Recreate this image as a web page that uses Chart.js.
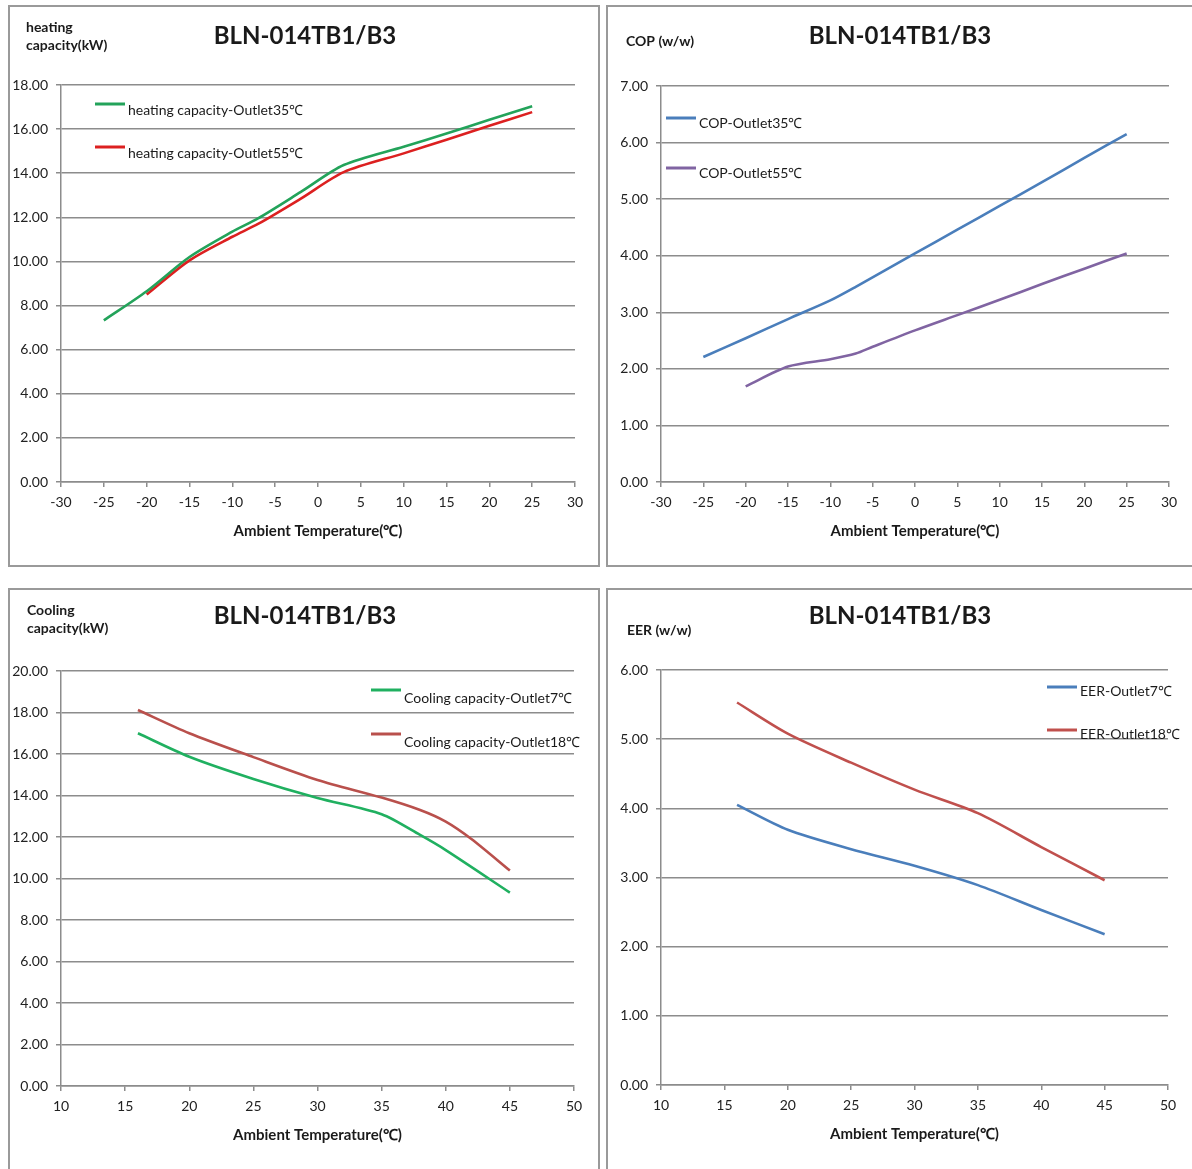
<!DOCTYPE html>
<html lang="en">
<head>
    <meta charset="UTF-8">
    <title>BLN-014TB1/B3 performance curves</title>
    <script src="https://cdn.jsdelivr.net/npm/chart.js"></script>
    <style>
        body { margin: 0; background: #fff; overflow: hidden; width: 1192px; height: 1169px; position: relative; }
        .frame { position: absolute; box-sizing: border-box; border: 2px solid #9a9a9a; }
        .holder { position: absolute; }
    </style>
</head>
<body>
    <!-- panel frames -->
    <div class="frame" style="left:8px;top:5px;width:592px;height:562px"></div>
    <div class="frame" style="left:606px;top:5px;width:620px;height:562px"></div>
    <div class="frame" style="left:8px;top:588px;width:592px;height:620px"></div>
    <div class="frame" style="left:606px;top:588px;width:620px;height:620px"></div>

    <div class="holder" style="left:8px;top:5px"><canvas id="heatChart" width="592" height="562"></canvas></div>
    <div class="holder" style="left:607px;top:5px"><canvas id="copChart" width="592" height="562"></canvas></div>
    <div class="holder" style="left:8px;top:588px"><canvas id="coolChart" width="592" height="581"></canvas></div>
    <div class="holder" style="left:607px;top:588px"><canvas id="eerChart" width="592" height="581"></canvas></div>

    <script>
        // ---- data ----
        const modelName = 'BLN-014TB1/B3';
        const xTitle = 'Ambient Temperature(℃)';

        // heating capacity (kW)
        const heatTemp35 = [-25, -20, -15, -10, -7, -2, 3, 10, 15, 20, 25];
        const heatCap35 = [7.33, 8.65, 10.2, 11.35, 11.95, 13.15, 14.37, 15.2, 15.8, 16.42, 17.04];
        const heatTemp55 = [-20, -15, -10, -7, -2, 3, 10, 15, 20, 25];
        const heatCap55 = [8.5, 10.05, 11.12, 11.7, 12.85, 14.05, 14.9, 15.52, 16.15, 16.77];
        const heatXTicks = [-30, -25, -20, -15, -10, -5, 0, 5, 10, 15, 20, 25, 30];
        const heatYTicks = [0, 2, 4, 6, 8, 10, 12, 14, 16, 18];

        // COP (w/w)
        const copTemp35 = [-25, -20, -15, -10, -7, 0, 5, 10, 15, 20, 25];
        const cop35 = [2.21, 2.54, 2.88, 3.21, 3.45, 4.04, 4.46, 4.88, 5.3, 5.73, 6.15];
        const copTemp55 = [-20, -15, -10, -7, -5, 0, 5, 10, 15, 20, 25];
        const cop55 = [1.69, 2.04, 2.17, 2.27, 2.39, 2.68, 2.95, 3.22, 3.5, 3.77, 4.04];
        const copXTicks = [-30, -25, -20, -15, -10, -5, 0, 5, 10, 15, 20, 25, 30];
        const copYTicks = [0, 1, 2, 3, 4, 5, 6, 7];

        // cooling capacity (kW)
        const coolTemp7 = [16, 20, 25, 30, 35, 38, 40, 45];
        const cool7 = [17.0, 15.87, 14.8, 13.88, 13.1, 12.1, 11.37, 9.32];
        const coolTemp18 = [16, 20, 25, 30, 35, 38, 40, 42, 45];
        const cool18 = [18.12, 17.0, 15.85, 14.75, 13.9, 13.3, 12.74, 11.9, 10.38];
        const coolXTicks = [10, 15, 20, 25, 30, 35, 40, 45, 50];
        const coolYTicks = [0, 2, 4, 6, 8, 10, 12, 14, 16, 18, 20];

        // EER (w/w)
        const eerTemp = [16, 20, 25, 30, 35, 40, 45];
        const eer7 = [4.05, 3.69, 3.41, 3.17, 2.89, 2.53, 2.18];
        const eer18 = [5.53, 5.08, 4.66, 4.27, 3.93, 3.44, 2.96];
        const eerXTicks = [10, 15, 20, 25, 30, 35, 40, 45, 50];
        const eerYTicks = [0, 1, 2, 3, 4, 5, 6];

        const FONT = 'Lato, "Open Sans", sans-serif';
        const GRID = '#8c8c8c';

        function pts(xs, ys) {
            return xs.map((x, i) => ({ x: x, y: ys[i] }));
        }

        // title, unit label on the top left and the in-plot legend
        const extras = {
            id: 'extras',
            afterDraw(chart, args, o) {
                const ctx = chart.ctx;
                ctx.save();
                ctx.fillStyle = '#1a1a1a';
                ctx.textBaseline = 'middle';
                ctx.textAlign = 'center';
                ctx.font = 'bold 24px ' + FONT;
                ctx.fillText(modelName, o.titleX, o.titleY);

                ctx.textAlign = 'left';
                ctx.font = 'bold 14px ' + FONT;
                o.unit.forEach((t, i) => ctx.fillText(t, o.unitX, o.unitY + i * 18));

                ctx.font = '14px ' + FONT;
                chart.data.datasets.forEach((ds, i) => {
                    const y = o.legY + i * o.legGap;
                    ctx.strokeStyle = ds.borderColor;
                    ctx.lineWidth = 3;
                    ctx.beginPath();
                    ctx.moveTo(o.legX, y);
                    ctx.lineTo(o.legX + 30, y);
                    ctx.stroke();
                    ctx.fillText(ds.label, o.legX + 33, y + o.textDy);
                });
                ctx.restore();
            }
        };

        function makeChart(id, cfg) {
            const c = document.getElementById(id);
            const area = cfg.area; // chart area inside the canvas
            const xH = 60;
            return new Chart(c, {
                type: 'line',
                data: {
                    datasets: cfg.series.map(s => ({
                        label: s.label,
                        data: pts(s.x, s.y),
                        borderColor: s.color,
                        borderWidth: 2.6,
                        pointRadius: 0,
                        tension: 0.28,
                        fill: false
                    }))
                },
                options: {
                    responsive: false,
                    animation: false,
                    layout: {
                        padding: {
                            left: 0,
                            top: area.top,
                            right: c.width - area.right,
                            bottom: c.height - area.bottom - xH
                        }
                    },
                    plugins: {
                        legend: { display: false },
                        tooltip: { enabled: false },
                        extras: cfg.extras
                    },
                    scales: {
                        x: {
                            type: 'linear',
                            min: cfg.xTicks[0],
                            max: cfg.xTicks[cfg.xTicks.length - 1],
                            afterBuildTicks: s => { s.ticks = cfg.xTicks.map(v => ({ value: v })); },
                            afterFit: s => { s.height = xH; },
                            grid: { drawOnChartArea: false, drawTicks: true, tickLength: 5, color: GRID, lineWidth: 1.5 },
                            border: { color: GRID, width: 1.5 },
                            ticks: { color: '#222', font: { family: FONT, size: 14 }, padding: 7, maxRotation: 0 },
                            title: {
                                display: true,
                                text: xTitle,
                                color: '#1a1a1a',
                                font: { family: FONT, size: 15, weight: 'bold' },
                                padding: { top: 0, bottom: 2 }
                            }
                        },
                        y: {
                            min: cfg.yTicks[0],
                            max: cfg.yTicks[cfg.yTicks.length - 1],
                            afterBuildTicks: s => { s.ticks = cfg.yTicks.map(v => ({ value: v })); },
                            afterFit: s => { s.width = area.left; },
                            grid: { color: GRID, lineWidth: 1.5, tickLength: 5 },
                            border: { color: GRID, width: 1.5 },
                            ticks: {
                                color: '#222',
                                font: { family: FONT, size: 14 },
                                padding: 8,
                                callback: v => Number(v).toFixed(2)
                            }
                        }
                    }
                },
                plugins: [extras]
            });
        }

        makeChart('heatChart', {
            area: { left: 53, right: 567, top: 80, bottom: 477 },
            xTicks: heatXTicks,
            yTicks: heatYTicks,
            series: [
                { label: 'heating capacity-Outlet35℃', x: heatTemp35, y: heatCap35, color: '#23a35a' },
                { label: 'heating capacity-Outlet55℃', x: heatTemp55, y: heatCap55, color: '#dc2020' }
            ],
            extras: {
                titleX: 297, titleY: 31,
                unit: ['heating', 'capacity(kW)'], unitX: 18, unitY: 22,
                legX: 87, legY: 99, legGap: 43, textDy: 6
            }
        });

        makeChart('copChart', {
            area: { left: 54, right: 562, top: 81, bottom: 477 },
            xTicks: copXTicks,
            yTicks: copYTicks,
            series: [
                { label: 'COP-Outlet35℃', x: copTemp35, y: cop35, color: '#4a7ebb' },
                { label: 'COP-Outlet55℃', x: copTemp55, y: cop55, color: '#8064a2' }
            ],
            extras: {
                titleX: 293, titleY: 31,
                unit: ['COP (w/w)'], unitX: 19, unitY: 36,
                legX: 59, legY: 113, legGap: 50, textDy: 5
            }
        });

        makeChart('coolChart', {
            area: { left: 53, right: 566, top: 83, bottom: 498 },
            xTicks: coolXTicks,
            yTicks: coolYTicks,
            series: [
                { label: 'Cooling capacity-Outlet7℃', x: coolTemp7, y: cool7, color: '#20b060' },
                { label: 'Cooling capacity-Outlet18℃', x: coolTemp18, y: cool18, color: '#b9504c' }
            ],
            extras: {
                titleX: 297, titleY: 28,
                unit: ['Cooling', 'capacity(kW)'], unitX: 19, unitY: 22,
                legX: 363, legY: 102, legGap: 44, textDy: 8
            }
        });

        makeChart('eerChart', {
            area: { left: 54, right: 561, top: 82, bottom: 497 },
            xTicks: eerXTicks,
            yTicks: eerYTicks,
            series: [
                { label: 'EER-Outlet7℃', x: eerTemp, y: eer7, color: '#4a7ebb' },
                { label: 'EER-Outlet18℃', x: eerTemp, y: eer18, color: '#c0504d' }
            ],
            extras: {
                titleX: 293, titleY: 28,
                unit: ['EER (w/w)'], unitX: 20, unitY: 42,
                legX: 440, legY: 99, legGap: 43, textDy: 4
            }
        });
    </script>
</body>
</html>
